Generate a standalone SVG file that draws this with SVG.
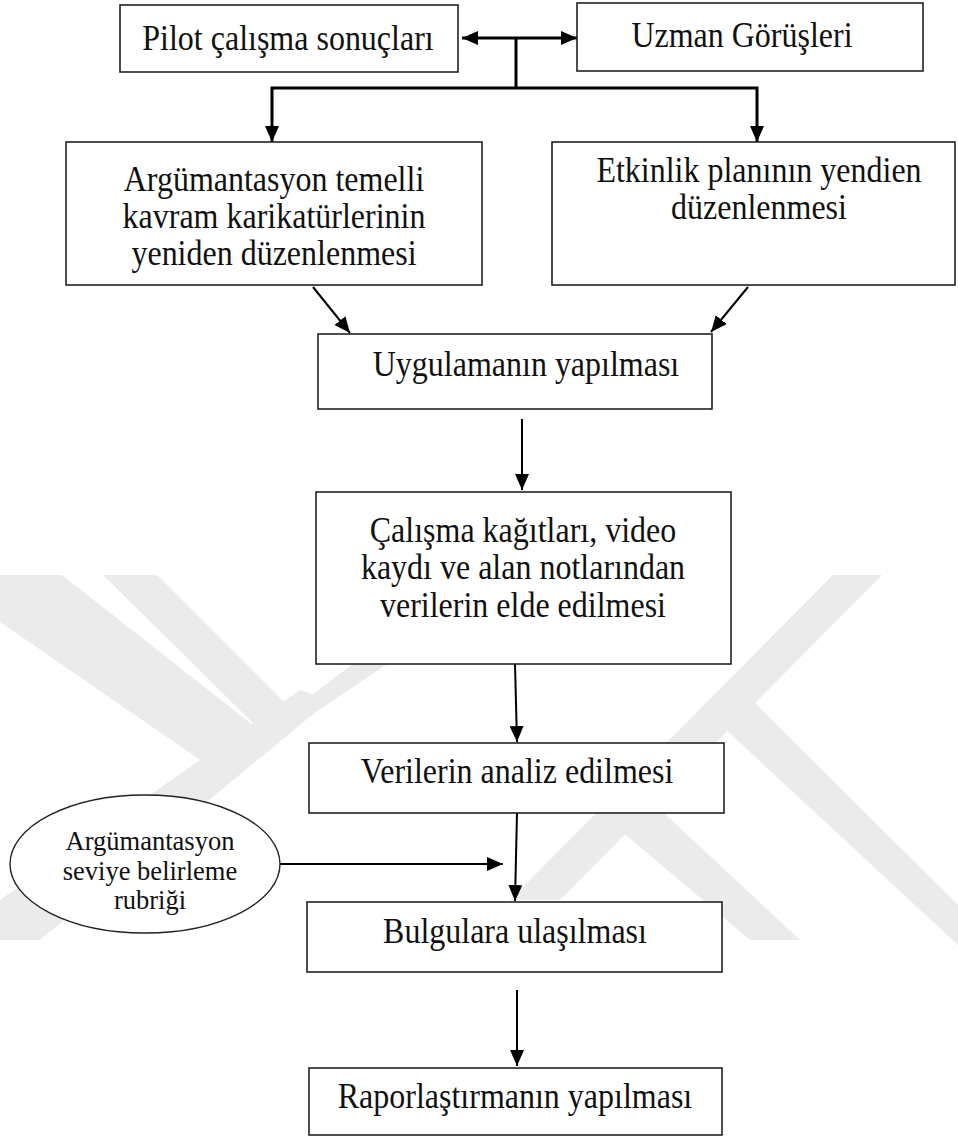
<svg xmlns="http://www.w3.org/2000/svg" width="958" height="1139" viewBox="0 0 958 1139">
  <style>
    .box { fill: #ffffff; stroke: #222222; stroke-width: 1.6; }
    .oval { fill: #ffffff; stroke: #222222; stroke-width: 1.4; }
    .lbl { font-family: "Liberation Serif", "Times New Roman", serif; font-size: 32px; fill: #111111; text-anchor: middle; }
    .small { font-family: "Liberation Serif", "Times New Roman", serif; font-size: 26.5px; fill: #111111; text-anchor: middle; }
    .wire { fill: none; stroke: #000000; stroke-width: 2; }
    .wire.bold { stroke-width: 3; }
    .mark { fill: #ebebeb; stroke: none; }
  </style>
  <defs>
    <marker id="head" viewBox="0 0 16 14" refX="16" refY="7" markerWidth="16" markerHeight="14" markerUnits="userSpaceOnUse" orient="auto-start-reverse">
      <path d="M0,0 L16,7 L0,14 Z" fill="#000000"/>
    </marker>
  </defs>

  <rect width="958" height="1139" fill="#ffffff"/>

  <!-- light background emblem, partly covered by the boxes -->
  <g id="emblem">
    <polygon class="mark" points="0,575 62,575 263,733 222,775 0,622"/>
    <polygon class="mark" points="103,575 157,575 292,710 263,733"/>
    <polygon class="mark" points="222,775 292,710 470,575 520,575"/>
    <polygon class="mark" points="833,575 882,575 560,900 510,900"/>
    <polygon class="mark" points="723,727 752,700 958,905 958,945"/>
    <polygon class="mark" points="620,830 650,800 800,940 750,940"/>
    <polygon class="mark" points="0,900 0,940 40,940 330,700 300,690"/>
  </g>

  <g id="connectors">
    <line class="wire bold" x1="462" y1="38" x2="577" y2="38" marker-start="url(#head)" marker-end="url(#head)"/>
    <polyline class="wire bold" points="516,38 516,88"/>
    <polyline class="wire bold" points="272,142 272,88 757,88 757,142" marker-start="url(#head)" marker-end="url(#head)"/>
    <line class="wire" x1="313" y1="287" x2="350" y2="333" marker-end="url(#head)"/>
    <line class="wire" x1="748" y1="287" x2="711" y2="332" marker-end="url(#head)"/>
    <line class="wire" x1="522" y1="419" x2="522" y2="490" marker-end="url(#head)"/>
    <line class="wire" x1="515" y1="664" x2="517" y2="742" marker-end="url(#head)"/>
    <line class="wire" x1="517" y1="813" x2="515" y2="901" marker-end="url(#head)"/>
    <line class="wire" x1="278" y1="864" x2="503" y2="864" marker-end="url(#head)"/>
    <line class="wire" x1="517" y1="990" x2="517" y2="1066" marker-end="url(#head)"/>
  </g>

  <g id="pilot">
    <rect class="box" x="120" y="5" width="338" height="67"/>
    <text class="lbl" transform="translate(288,50) scale(1,1.15)">Pilot çalışma sonuçları</text>
  </g>
  <g id="uzman">
    <rect class="box" x="577" y="3" width="346" height="68"/>
    <text class="lbl" transform="translate(742,47) scale(1,1.15)">Uzman Görüşleri</text>
  </g>
  <g id="karikatur">
    <rect class="box" x="66" y="142" width="416" height="143"/>
    <text class="lbl" transform="translate(274,191) scale(1,1.15)">Argümantasyon temelli</text>
    <text class="lbl" transform="translate(274,228) scale(1,1.15)">kavram karikatürlerinin</text>
    <text class="lbl" transform="translate(274,265) scale(1,1.15)">yeniden düzenlenmesi</text>
  </g>
  <g id="etkinlik">
    <rect class="box" x="552" y="142" width="403" height="143"/>
    <text class="lbl" transform="translate(759,182) scale(1,1.15)">Etkinlik planının yendien</text>
    <text class="lbl" transform="translate(759,219) scale(1,1.15)">düzenlenmesi</text>
  </g>
  <g id="uygulama">
    <rect class="box" x="318" y="334" width="394" height="75"/>
    <text class="lbl" transform="translate(526,376) scale(1,1.15)">Uygulamanın yapılması</text>
  </g>
  <g id="veri-elde">
    <rect class="box" x="316" y="492" width="415" height="172"/>
    <text class="lbl" transform="translate(523,542) scale(1,1.15)">Çalışma kağıtları, video</text>
    <text class="lbl" transform="translate(523,579) scale(1,1.15)">kaydı ve alan notlarından</text>
    <text class="lbl" transform="translate(523,617) scale(1,1.15)">verilerin elde edilmesi</text>
  </g>
  <g id="analiz">
    <rect class="box" x="309" y="743" width="415" height="70"/>
    <text class="lbl" transform="translate(517,783) scale(1,1.15)">Verilerin analiz edilmesi</text>
  </g>
  <g id="rubrik">
    <ellipse class="oval" cx="145" cy="864" rx="135" ry="69"/>
    <text class="small" x="150" y="850">Argümantasyon</text>
    <text class="small" x="150" y="879.5">seviye belirleme</text>
    <text class="small" x="150" y="909">rubriği</text>
  </g>
  <g id="bulgular">
    <rect class="box" x="307" y="902" width="415" height="70"/>
    <text class="lbl" transform="translate(515,943) scale(1,1.15)">Bulgulara ulaşılması</text>
  </g>
  <g id="rapor">
    <rect class="box" x="309" y="1068" width="413" height="67"/>
    <text class="lbl" transform="translate(515,1108) scale(1,1.15)">Raporlaştırmanın yapılması</text>
  </g>
</svg>
